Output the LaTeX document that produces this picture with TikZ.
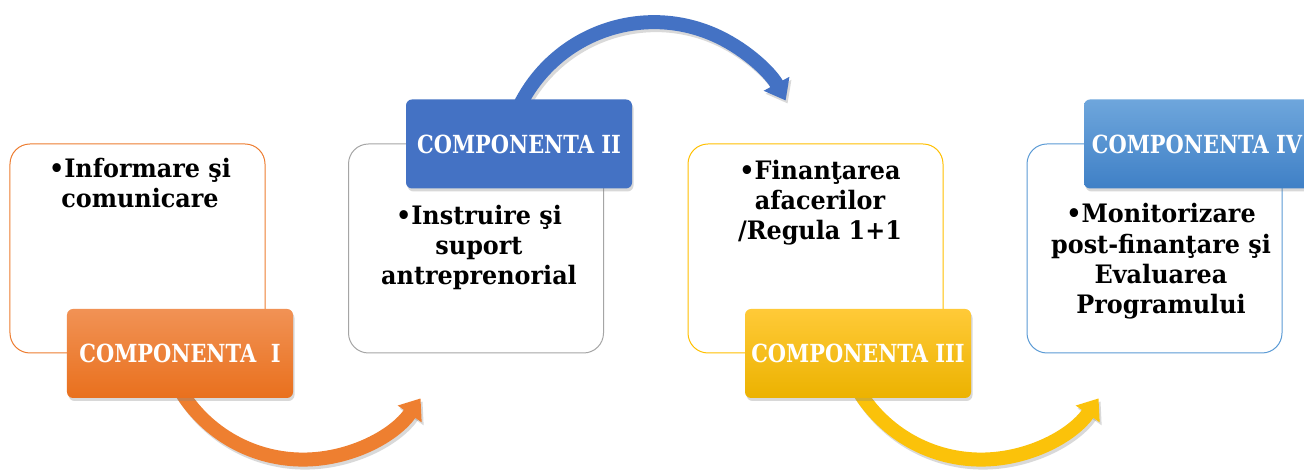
\documentclass[tikz,border=0pt]{standalone}
\usepackage{fontspec}
\setmainfont{DejaVu Serif}
\newfontfamily\hdfont[FakeStretch=0.84]{DejaVu Serif}
\newfontfamily\bdfont[FakeStretch=0.94]{DejaVu Serif}
\usetikzlibrary{arrows.meta,shadows}
\definecolor{orOut}{HTML}{ED7D31}
\definecolor{orTop}{RGB}{241,146,85}
\definecolor{orBot}{RGB}{233,112,29}
\definecolor{orArr}{HTML}{EE7F30}
\definecolor{grOut}{HTML}{A5A5A5}
\definecolor{blHead}{HTML}{4472C4}
\definecolor{yeOut}{HTML}{FFC000}
\definecolor{yeTop}{RGB}{255,202,56}
\definecolor{yeBot}{RGB}{236,178,0}
\definecolor{yeArr}{HTML}{FBC20A}
\definecolor{lbOut}{HTML}{5B9BD5}
\definecolor{lbTop}{RGB}{110,166,220}
\definecolor{lbBot}{RGB}{63,128,198}
\begin{document}
\begin{tikzpicture}[x=1bp,y=1bp,
  outline/.style={draw, line width=1bp, rounded corners=20bp, minimum width=255bp, minimum height=209bp, inner sep=0pt},
  header/.style={rounded corners=6bp, text=white, font=\hdfont\bfseries\fontsize{25}{28}\selectfont,
    minimum width=226bp, minimum height=89bp, inner sep=0pt,
    drop shadow={opacity=0.3, shadow xshift=1.5bp, shadow yshift=-3bp}},
  bodytext/.style={align=center, font=\bdfont\bfseries\fontsize{25.5}{30.5}\selectfont, inner sep=0pt, anchor=base},
  carrow/.style={line width=14bp, -{Triangle[width=28bp,length=19bp]}},
  ashadow/.style={carrow, draw=black, opacity=0.15}
]
\useasboundingbox (0,0) rectangle (1304,472);
\fill[white] (0,0) rectangle (1304,472);

% outline boxes
\node[outline, draw=orOut] (b1) at (137.5,223.5) {};
\node[outline, draw=grOut] (b2) at (476,223.5) {};
\node[outline, draw=yeOut] (b3) at (815.5,223.5) {};
\node[outline, draw=lbOut] (b4) at (1154.5,223.5) {};

% start points of the curved arrows (hidden under the headers)
\coordinate (h1s) at (180,82);
\coordinate (h2n) at (519,365);
\coordinate (h3s) at (858,82);

% arrow shadows
\draw[ashadow] ([shift={(2,-3)}]h1s) arc[start angle=211, end angle=325, radius=143.5];
\draw[ashadow] ([shift={(2,-3)}]h2n) arc[start angle=154.3, end angle=28.5, radius=149.8];
\draw[ashadow] ([shift={(2,-3)}]h3s) arc[start angle=211, end angle=325, radius=143.5];

% arrows
\draw[carrow, draw=orArr] (h1s) arc[start angle=211, end angle=325, radius=143.5];
\draw[carrow, draw=blHead] (h2n) arc[start angle=154.3, end angle=28.5, radius=149.8];
\draw[carrow, draw=yeArr] (h3s) arc[start angle=211, end angle=325, radius=143.5];

% headers
\node[header, top color=orTop, bottom color=orBot] (h1) at (180,118.5) {COMPONENTA\ \ I};
\node[header, fill=blHead] (h2) at (519,328) {COMPONENTA II};
\node[header, top color=yeTop, bottom color=yeBot] (h3) at (858,118.5) {COMPONENTA III};
\node[header, top color=lbTop, bottom color=lbBot] (h4) at (1197,328) {COMPONENTA IV};

% body texts (anchor base = baseline of the last line)
\node[bodytext] (t1) at (140,264) {•Informare şi\\comunicare};
\node[bodytext] (t2) at (479,187) {•Instruire şi\\suport\\antreprenorial};
\node[bodytext] (t3) at (820,232) {•Finanţarea\\afacerilor\\/Regula 1+1};
\node[bodytext] (t4) at (1161,158) {•Monitorizare\\post-finanţare şi\\Evaluarea\\Programului};
\end{tikzpicture}
\end{document}
